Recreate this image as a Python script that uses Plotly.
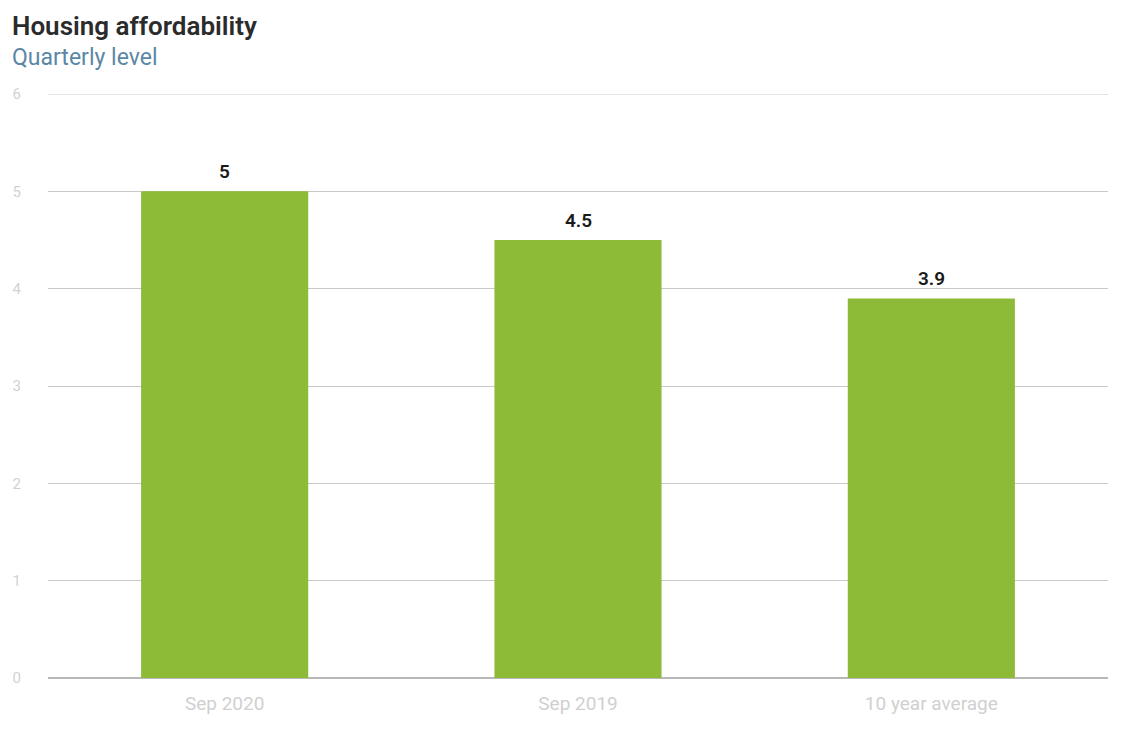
import plotly.graph_objects as go

categories = ["Sep 2020", "Sep 2019", "10 year average"]
values = [5.0, 4.5, 3.9]
value_labels = ["5", "4.5", "3.9"]
y_ticks = [0, 1, 2, 3, 4, 5, 6]

fig = go.Figure(
    go.Bar(
        x=categories,
        y=values,
        marker=dict(color="#8dbb38", line=dict(width=0)),
        width=0.473,
        hoverinfo="x+y",
    )
)

# value labels sitting just above each bar
for cat, val, lab in zip(categories, values, value_labels):
    fig.add_annotation(
        x=cat, y=val, text=lab, showarrow=False, yanchor="bottom", yshift=6,
        font=dict(family="Roboto, Arial, sans-serif", size=19, color="#1a1a1a", weight=600),
    )

# top gridline at the range maximum
fig.add_shape(type="line", xref="paper", yref="y", x0=0, x1=1, y0=y_ticks[-1], y1=y_ticks[-1],
              line=dict(color="#c8c8c8", width=1), layer="below")

fig.add_annotation(text="Housing affordability", xref="paper", yref="paper",
                   x=-0.0358, y=1.117, xanchor="left", yanchor="middle", showarrow=False,
                   font=dict(family="Roboto, Arial, sans-serif", size=26, color="#2b2b2b", weight=600))
fig.add_annotation(text="Quarterly level", xref="paper", yref="paper",
                   x=-0.0358, y=1.063, xanchor="left", yanchor="middle", showarrow=False,
                   font=dict(family="Roboto, Arial, sans-serif", size=23, color="#5b87a6"))

fig.update_layout(
    width=1121,
    height=736,
    paper_bgcolor="white",
    plot_bgcolor="white",
    margin=dict(l=48, r=13, t=94, b=58),
    showlegend=False,
    font=dict(family="Roboto, Arial, sans-serif"),
)

fig.update_xaxes(
    showgrid=False, showline=False, zeroline=False,
    tickfont=dict(size=19, color="#d0d0d0"), ticks="", ticklabelstandoff=12,
)
fig.update_yaxes(
    range=[0, 6], tickvals=y_ticks, showgrid=True, gridcolor="#c8c8c8",
    gridwidth=1, zeroline=True, zerolinecolor="#b8b8b8", showline=False,
    tickfont=dict(size=15, color="#d2d2d2"), ticks="", ticklabelstandoff=26,
)

fig.write_html("out.html")
